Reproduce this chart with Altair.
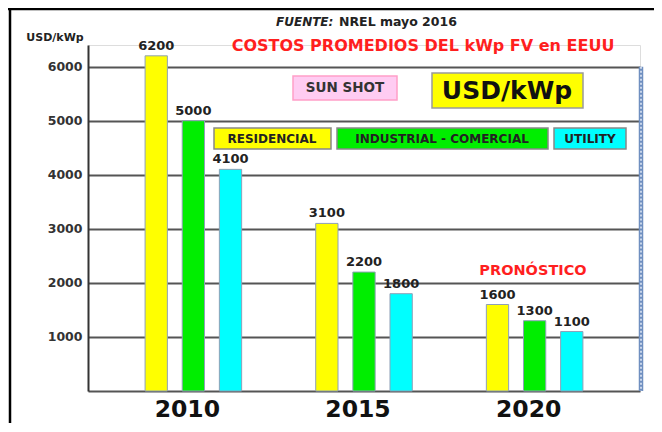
import altair as alt
import pandas as pd

# ---- data ----
years = ["2010", "2015", "2020"]
series = ["RESIDENCIAL", "INDUSTRIAL - COMERCIAL", "UTILITY"]
residencial = [6200, 3100, 1600]
industrial = [5000, 2200, 1300]
utility = [4100, 1800, 1100]
y_ticks = [1000, 2000, 3000, 4000, 5000, 6000]
colors = ["#ffff00", "#00ee00", "#00ffff"]

rows = []
for i, y in enumerate(years):
    for s, vals in zip(series, [residencial, industrial, utility]):
        rows.append({"year": y, "serie": s, "value": vals[i]})
df = pd.DataFrame(rows)

FONT = "DejaVu Sans"
W, H = 552, 346

x_enc = alt.X("year:N", sort=years,
              scale=alt.Scale(paddingInner=0.347, paddingOuter=0.291),
              axis=alt.Axis(title=None, labelAngle=0, labelFont=FONT, labelFontSize=23.5,
                            labelFontWeight="bold", labelColor="#111", labelPadding=6,
                            labelOffset=-6,
                            ticks=False, domainColor="#555", domainWidth=2, grid=False))
xo_enc = alt.XOffset("serie:N", sort=series,
                     scale=alt.Scale(paddingInner=0.4, paddingOuter=0.2))
y_enc = alt.Y("value:Q", scale=alt.Scale(domain=[0, 6400], nice=False),
              axis=alt.Axis(title=None, values=y_ticks, format="d", grid=True,
                            gridColor="#555", gridWidth=2, gridOpacity=1, ticks=False,
                            labelFont=FONT, labelFontSize=12.5, labelFontWeight="bold",
                            labelColor="#333", labelPadding=6, domainColor="#333",
                            domainWidth=2))

base = alt.Chart(df)

bars = base.mark_bar(stroke="#8ea0b8", strokeWidth=1).encode(
    x=x_enc, xOffset=xo_enc, y=y_enc,
    color=alt.Color("serie:N", sort=series,
                    scale=alt.Scale(domain=series, range=colors), legend=None),
)

labels = base.mark_text(font=FONT, fontSize=13, fontWeight="bold", color="#222",
                        baseline="alphabetic", dy=-6).encode(
    x=x_enc, xOffset=xo_enc, y="value:Q", text="value:Q")

one = pd.DataFrame({"a": [0]})

def txt(s, x, y, size, color="#222", weight="bold", style="normal", align="center"):
    return alt.Chart(one).mark_text(text=s, font=FONT, fontSize=size, fontWeight=weight,
                                    fontStyle=style, color=color, align=align,
                                    baseline="middle").encode(x=alt.value(x), y=alt.value(y))

def box(x1, x2, y1, y2, fill, stroke):
    return alt.Chart(one).mark_rect(fill=fill, stroke=stroke, strokeWidth=1.5).encode(
        x=alt.value(x1), x2=alt.value(x2), y=alt.value(y1), y2=alt.value(y2))

# right dotted border
rline = alt.Chart(one).mark_rule(color="#6f8fc0", strokeWidth=4.5).encode(
    x=alt.value(W + 1), y=alt.datum(6000), y2=alt.datum(0))
rline2 = alt.Chart(one).mark_rule(color="#e8eef8", strokeWidth=1.5, strokeDash=[2, 2]).encode(
    x=alt.value(W + 1), y=alt.datum(6000), y2=alt.datum(0))

# frame (left and top)
frame_l = alt.Chart(one).mark_rule(color="black", strokeWidth=2.5).encode(
    x=alt.value(-78), y=alt.value(-37), y2=alt.value(H + 32))
frame_t = alt.Chart(one).mark_rule(color="black", strokeWidth=2.5).encode(
    x=alt.value(-80), x2=alt.value(W + 14), y=alt.value(-36))

ox, oy = 88, 45  # page offsets of plot area
annotations = [
    txt("USD/kWp", 55 - ox, 38 - oy, 11),
    txt("FUENTE:", 276 - ox, 22 - oy, 12, color="#222", style="italic", align="left"),
    txt("NREL mayo 2016", 339 - ox, 22 - oy, 12.5, color="#222", align="left"),
    txt("COSTOS PROMEDIOS DEL kWp FV en EEUU", 423 - ox, 46 - oy, 16, color="#ff1f1f"),
    box(293 - ox, 397 - ox, 76 - oy, 100 - oy, "#ffccf2", "#ff9fc8"),
    txt("SUN SHOT", 345 - ox, 88 - oy, 13.5, color="#333"),
    box(432 - ox, 583 - ox, 73 - oy, 108 - oy, "#ffff00", "#9a9a9a"),
    txt("USD/kWp", 507 - ox, 91 - oy, 25, color="#111"),
    box(214 - ox, 331 - ox, 128 - oy, 149 - oy, "#ffff00", "#888"),
    txt("RESIDENCIAL", 272 - ox, 139 - oy, 12, color="#222"),
    box(337 - ox, 548 - ox, 128 - oy, 149 - oy, "#00ee00", "#888"),
    txt("INDUSTRIAL - COMERCIAL", 442 - ox, 139 - oy, 12, color="#222"),
    box(554 - ox, 626 - ox, 128 - oy, 149 - oy, "#00ffff", "#888"),
    txt("UTILITY", 590 - ox, 139 - oy, 12, color="#222"),
    txt("PRONÓSTICO", 533 - ox, 271 - oy, 14.5, color="#ff1f1f"),
]

chart = alt.layer(bars, labels, rline, rline2, frame_l, frame_t, *annotations).properties(
    width=W, height=H,
    autosize=alt.AutoSizeParams(type="none"),
    padding={"left": 80, "top": 37, "right": 14, "bottom": 32},
).configure_view(stroke=None).configure(background="white")

chart.save("out.html", embed_options={"renderer": "svg", "actions": False})
